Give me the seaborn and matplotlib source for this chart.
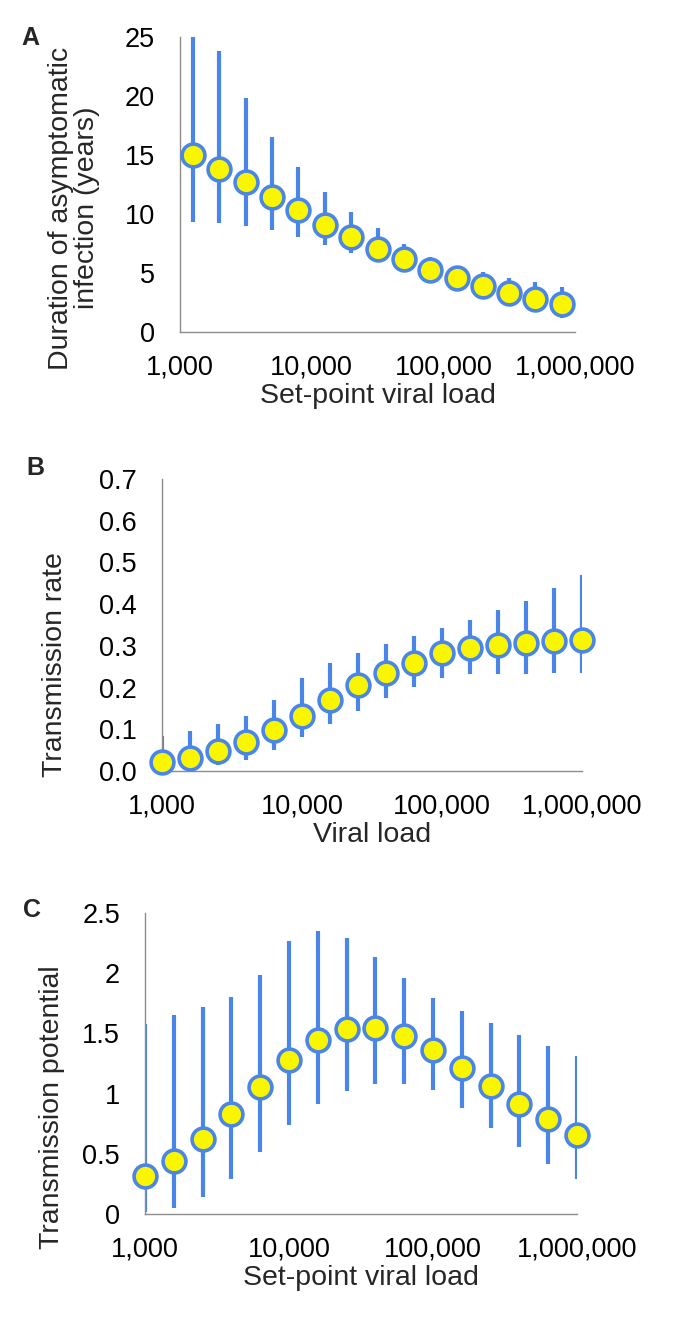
import numpy as np
import pandas as pd
import matplotlib
matplotlib.use("Agg")
import matplotlib.pyplot as plt
import seaborn as sns
from matplotlib.ticker import FixedLocator, FuncFormatter, NullLocator

sns.set_style("white")
plt.rcParams["font.family"] = ["Liberation Sans", "DejaVu Sans"]

BLUE = "#4A86E8"
YELLOW = "#FAF500"
GRAY = "#8C8C8C"

# ---------------- data ----------------
# Panel A: set-point viral load (log10 positions 3.1 .. 5.9)
a_load = [1259, 1995, 3162, 5012, 7943, 12589, 19953, 31623, 50119, 79433,
          125893, 199526, 316228, 501187, 794328]
a_dur = [15.0, 13.85, 12.7, 11.4, 10.3, 9.1, 8.05, 7.03, 6.15, 5.28, 4.55, 3.93, 3.31, 2.8, 2.37]
a_low = [9.35, 9.25, 8.95, 8.67, 8.05, 7.34, 6.69, 5.99, 5.34, 4.49, 3.81, 3.16, 2.37, 1.69, 1.19]
a_high = [25.0, 23.8, 19.8, 16.5, 14.0, 11.9, 10.2, 8.8, 7.5, 6.36, 5.56, 5.06, 4.58, 4.21, 3.81]

# Panel B: viral load (log10 positions 3.0 .. 6.0)
b_load = [1000, 1585, 2512, 3981, 6310, 10000, 15849, 25119, 39811, 63096,
          100000, 158489, 251189, 398107, 630957, 1000000]
b_rate = [0.021, 0.031, 0.048, 0.070, 0.098, 0.132, 0.170, 0.205, 0.236, 0.260,
          0.282, 0.294, 0.301, 0.308, 0.311, 0.313]
b_low = [0.006, 0.010, 0.014, 0.026, 0.050, 0.082, 0.113, 0.145, 0.175, 0.201,
         0.224, 0.232, 0.232, 0.232, 0.234, 0.234]
b_high = [0.083, 0.096, 0.112, 0.133, 0.171, 0.222, 0.258, 0.282, 0.304, 0.324,
          0.342, 0.362, 0.385, 0.408, 0.439, 0.470]

# Panel C: set-point viral load (log10 positions 3.0 .. 6.0)
c_load = b_load
c_pot = [0.317, 0.444, 0.622, 0.831, 1.053, 1.275, 1.442, 1.533, 1.544, 1.478,
         1.361, 1.214, 1.061, 0.917, 0.789, 0.658]
c_low = [0.02, 0.047, 0.139, 0.289, 0.511, 0.742, 0.914, 1.025, 1.083, 1.083,
         1.033, 0.881, 0.714, 0.553, 0.414, 0.289]
c_high = [1.575, 1.65, 1.72, 1.80, 1.986, 2.27, 2.35, 2.29, 2.136, 1.964,
          1.797, 1.686, 1.589, 1.486, 1.394, 1.311]

x_ticks = [1000, 10000, 100000, 1000000]
a_yticks = [0, 5, 10, 15, 20, 25]
a_ylabels = ["0", "5", "10", "15", "20", "25"]
b_yticks = [0.0, 0.1, 0.2, 0.3, 0.4, 0.5, 0.6, 0.7]
b_ylabels = ["0.0", "0.1", "0.2", "0.3", "0.4", "0.5", "0.6", "0.7"]
c_yticks = [0, 0.5, 1, 1.5, 2, 2.5]
c_ylabels = ["0", "0.5", "1", "1.5", "2", "2.5"]

W, H = 692, 1339
fig = plt.figure(figsize=(W / 100, H / 100), dpi=100)


def make_ax(left, right, top, bottom):
    return fig.add_axes([left / W, 1 - bottom / H, (right - left) / W, (bottom - top) / H])


def panel(ax, x, y, lo, hi, ylim, yticks, ylabels, ylabel, xlabel, lab_xy):
    ax.vlines(x, lo, hi, color=BLUE, lw=3.0, zorder=2)
    df = pd.DataFrame({"x": x, "y": y})
    sns.scatterplot(data=df, x="x", y="y", ax=ax, s=270, color=YELLOW,
                    edgecolor=BLUE, linewidth=2.6, zorder=3, legend=False,
                    clip_on=False)
    ax.set_xscale("log")
    ax.set_xlim(1e3, 1e6)
    ax.set_ylim(*ylim)
    ax.xaxis.set_major_locator(FixedLocator(x_ticks))
    ax.xaxis.set_minor_locator(NullLocator())
    ax.xaxis.set_major_formatter(FuncFormatter(lambda v, p: f"{int(round(v)):,}"))
    ax.set_yticks(yticks)
    ax.set_yticklabels(ylabels)
    for s in ["top", "right"]:
        ax.spines[s].set_visible(False)
    for s in ["left", "bottom"]:
        ax.spines[s].set_color(GRAY)
        ax.spines[s].set_linewidth(1.0)
    ax.tick_params(axis="both", direction="out", length=6, width=1.0,
                   color=GRAY, labelsize=19.5, labelcolor="black")
    ax.tick_params(axis="y", pad=12)
    ax.tick_params(axis="x", pad=10)
    ax.set_xlabel(xlabel, fontsize=20.5, labelpad=2)
    ax.set_ylabel(ylabel, fontsize=20.5, ha="center", va="center",
                  linespacing=1.0)
    ax.yaxis.set_label_coords(*lab_xy)


axA = make_ax(180, 575, 37, 332)
panel(axA, a_load, a_dur, a_low, a_high, (0, 25), a_yticks, a_ylabels,
      "Duration of asymptomatic\ninfection (years)", "Set-point viral load",
      (-0.268, 0.42))

axB = make_ax(162, 582, 479, 771)
panel(axB, b_load, b_rate, b_low, b_high, (0, 0.7), b_yticks, b_ylabels,
      "Transmission rate", "Viral load", (-0.255, 0.363))

axC = make_ax(145, 577, 913, 1214)
panel(axC, c_load, c_pot, c_low, c_high, (0, 2.5), c_yticks, c_ylabels,
      "Transmission potential", "Set-point viral load", (-0.215, 0.355))

for lab, (px, py) in zip(["A", "B", "C"], [(30, 38), (35, 468), (32, 910)]):
    fig.text(px / W, 1 - py / H, lab, fontsize=18, fontweight="bold",
             ha="center", va="center")

fig.savefig("out.png", dpi=100, facecolor="white")
